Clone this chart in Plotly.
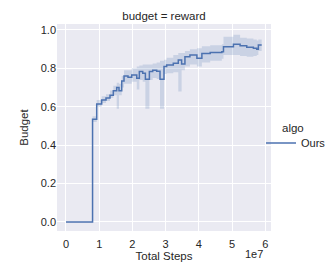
import plotly.graph_objects as go

# Data (x in environment steps)
steps = [0, 0.80e7, 0.925e7, 1.075e7, 1.205e7, 1.325e7, 1.425e7, 1.527e7, 1.596e7, 1.678e7,
         1.747e7, 1.867e7, 1.979e7, 2.13e7, 2.208e7, 2.31e7, 2.39e7, 2.51e7, 2.61e7, 2.73e7,
         2.83e7, 2.95e7, 3.03e7, 3.23e7, 3.38e7, 3.48e7, 3.58e7, 3.73e7, 3.94e7, 4.09e7,
         4.34e7, 4.69e7, 4.74e7, 5.04e7, 5.24e7, 5.44e7, 5.64e7, 5.74e7, 5.79e7, 5.89e7]
budget_mean = [0, 0.535, 0.615, 0.635, 0.645, 0.66, 0.684, 0.70, 0.684, 0.734,
               0.76, 0.754, 0.766, 0.748, 0.783, 0.774, 0.743, 0.783, 0.79, 0.785,
               0.743, 0.81, 0.818, 0.826, 0.844, 0.823, 0.86, 0.87, 0.852, 0.878,
               0.882, 0.887, 0.913, 0.925, 0.918, 0.91, 0.905, 0.90, 0.922, 0.922]
budget_lower = [0, 0.52, 0.60, 0.62, 0.63, 0.645, 0.66, 0.59, 0.66, 0.70,
                0.72, 0.72, 0.73, 0.69, 0.74, 0.73, 0.59, 0.74, 0.75, 0.745,
                0.59, 0.77, 0.775, 0.78, 0.68, 0.79, 0.81, 0.82, 0.81, 0.83,
                0.84, 0.85, 0.87, 0.87, 0.865, 0.86, 0.865, 0.87, 0.89, 0.89]
budget_upper = [0, 0.55, 0.635, 0.655, 0.665, 0.685, 0.71, 0.725, 0.72, 0.76,
                0.79, 0.79, 0.80, 0.81, 0.815, 0.82, 0.82, 0.82, 0.825, 0.83,
                0.84, 0.845, 0.855, 0.87, 0.88, 0.88, 0.89, 0.90, 0.905, 0.915,
                0.92, 0.925, 0.965, 0.975, 0.96, 0.955, 0.95, 0.945, 0.95, 0.95]

x_tickvals = [0, 1e7, 2e7, 3e7, 4e7, 5e7, 6e7]
x_ticktext = ["0", "1", "2", "3", "4", "5", "6"]
y_tickvals = [0.0, 0.2, 0.4, 0.6, 0.8, 1.0]
y_ticktext = ["0.0", "0.2", "0.4", "0.6", "0.8", "1.0"]

blue = "#4C72B0"
font = "Arial, Liberation Sans, sans-serif"

# the page puts the figure 8px in from the window's top-left corner
W, H = 333, 274
L, R, T, B = 49, 70, 16, 51
PW, PH = W - L - R, H - T - B

fig = go.Figure()
fig.add_trace(go.Scatter(x=steps, y=budget_upper, mode="lines", line=dict(width=0, shape="hv"),
                         showlegend=False, hoverinfo="skip"))
fig.add_trace(go.Scatter(x=steps, y=budget_lower, mode="lines", line=dict(width=0, shape="hv"),
                         fill="tonexty", fillcolor="rgba(76,114,176,0.2)",
                         showlegend=False, hoverinfo="skip"))
fig.add_trace(go.Scatter(x=steps, y=budget_mean, mode="lines", name="Ours",
                         line=dict(color=blue, width=1.5, shape="hv")))

fig.update_layout(
    width=W, height=H,
    margin=dict(l=L, r=R, t=T, b=B, autoexpand=False),
    paper_bgcolor="white", plot_bgcolor="#EAEAF2",
    font=dict(family=font, size=11, color="#262626"),
    title=dict(text="budget = reward", x=(L + (W - R)) / 2 / W, xanchor="center",
               y=1 - 8 / H, yanchor="middle", font=dict(size=11.5, color="#262626")),
    xaxis=dict(range=[-0.27e7, 6.17e7], tickvals=x_tickvals, ticktext=x_ticktext,
               showgrid=True, gridcolor="white", gridwidth=1, zeroline=False,
               showline=False, ticks="", ticklabelstandoff=5,
               title=dict(text="Total Steps", standoff=1, font=dict(size=11.5))),
    yaxis=dict(range=[-0.047, 1.031], tickvals=y_tickvals, ticktext=y_ticktext,
               showgrid=True, gridcolor="white", gridwidth=1, zeroline=False,
               showline=False, ticks="",
               title=dict(text="Budget", standoff=9, font=dict(size=11.5))),
    legend=dict(xref="container", yref="container",
                x=253 / W, xanchor="left", y=1 - 135 / H, yanchor="middle",
                bgcolor="rgba(0,0,0,0)", itemwidth=30, font=dict(size=11)),
    annotations=[
        dict(text="algo", xref="paper", yref="paper", x=(285 - L) / PW, y=(H - B - 120) / PH,
             xanchor="center", yanchor="middle", showarrow=False,
             font=dict(size=11.5, color="#262626")),
        dict(text="1e7", xref="paper", yref="paper", x=0.972, y=-0.072,
             xanchor="right", yanchor="top", showarrow=False,
             font=dict(size=11, color="#262626")),
    ],
)

fig.write_html("out.html")
